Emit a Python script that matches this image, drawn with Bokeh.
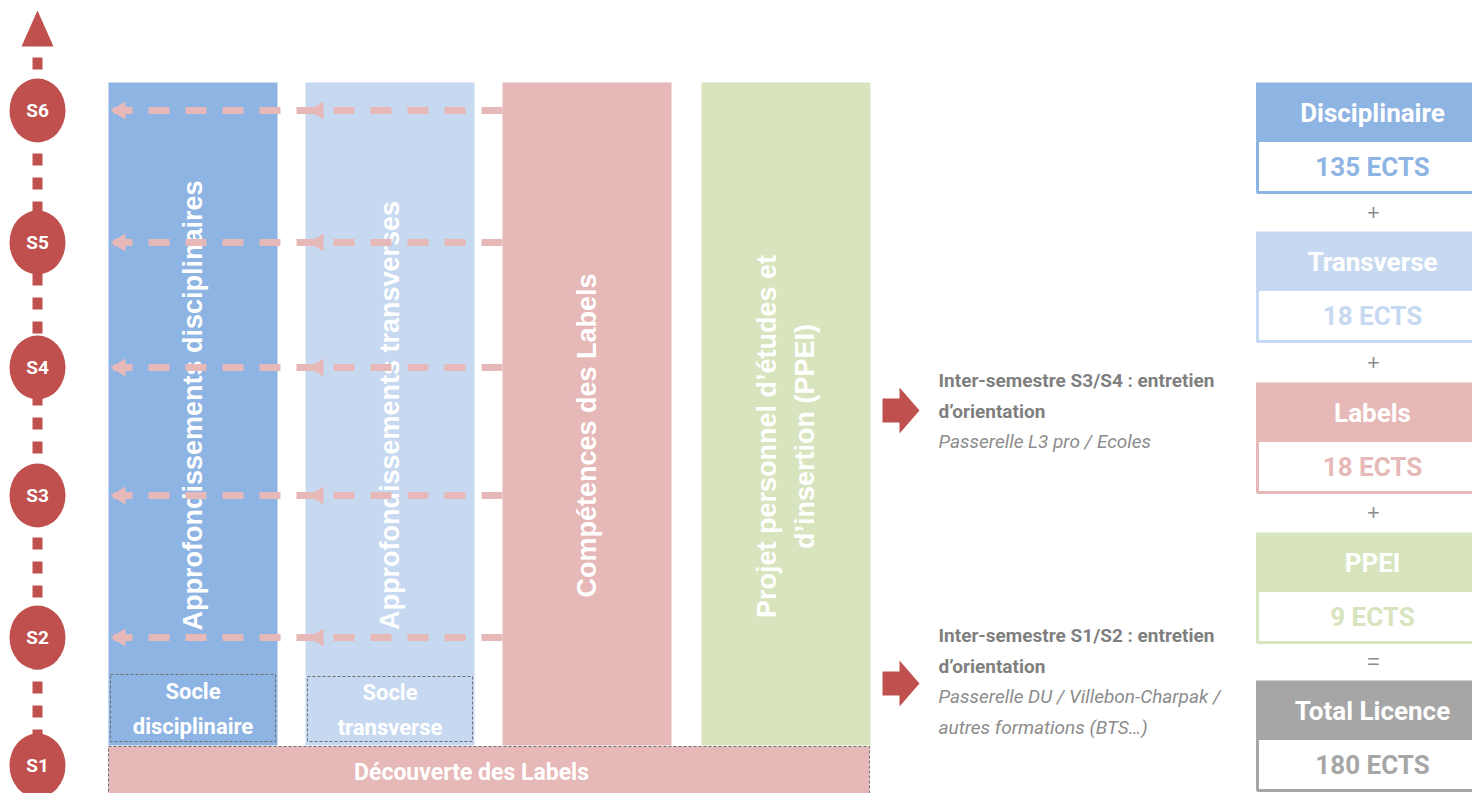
import numpy as np
from bokeh.plotting import figure
from bokeh.models import Range1d
from bokeh.core.properties import value
from bokeh.embed import file_html
from bokeh.resources import INLINE

# ---------------- data ----------------
semesters = ["S1", "S2", "S3", "S4", "S5", "S6"]
column_labels = [
    "Approfondissements disciplinaires",
    "Approfondissements transverses",
    "Compétences des Labels",
    "Projet personnel d’études et\nd’insertion (PPEI)",
]
socle_labels = ["Socle\ndisciplinaire", "Socle\ntransverse"]
base_label = "Découverte des Labels"
modules = ["Disciplinaire", "Transverse", "Labels", "PPEI", "Total Licence"]
ects = [135, 18, 18, 9, 180]
operators = ["+", "+", "+", "="]
note_titles = [
    "Inter-semestre S3/S4 : entretien\nd’orientation",
    "Inter-semestre S1/S2 : entretien\nd’orientation",
]
note_subtitles = [
    "Passerelle L3 pro / Ecoles",
    "Passerelle DU / Villebon-Charpak /\nautres formations (BTS…)",
]

# ---------------- style ----------------
RED = "#C0504D"
BLUE = "#8EB4E3"
LBLUE = "#C6D9F1"
PINK = "#E6B9B8"
GREEN = "#D7E4BD"
GREY = "#A6A6A6"
TXT = "#7F7F7F"
col_colors = [BLUE, LBLUE, PINK, GREEN]
mod_colors = [BLUE, LBLUE, PINK, GREEN, GREY]
NARROW = value("Roboto")
SANS = value("Liberation Sans")

# ---------------- layout ----------------
W, H = 1472, 793
sem_y = [765, 637, 495, 367, 242, 110]
tl_x = 37
col_left = [108, 305, 502, 701]
col_w = 169
col_top, col_bottom = 82, 745
col_text_y = [405, 415, 435, 436]
mod_top = [82, 231, 382, 532, 680]
head_h, body_h = 58, 52
mod_left, mod_right = 1257, 1490
note_y = [380, 635]
note_arrow_y = [410, 683]
note_step = 30.5

p = figure(width=W, height=H, x_range=Range1d(0, W), y_range=Range1d(H, 0),
           output_backend="svg", toolbar_location=None,
           x_axis_location=None, y_axis_location=None, min_border=0)
p.grid.visible = False
p.outline_line_color = None
p.background_fill_color = "white"

# ---- columns ----
p.quad(left=col_left, right=[l + col_w for l in col_left], top=[col_top] * 4,
       bottom=[col_bottom] * 4, fill_color=col_colors, line_color=None)

# socle boxes
soc_l = [col_left[0] + 2, col_left[1] + 2]
p.quad(left=soc_l, right=[l + col_w - 4 for l in soc_l], top=[674, 676], bottom=[741, 741],
       fill_color=None, line_color="#6F6F6F", line_dash="3 2", line_width=1)
p.text(x=[l + col_w / 2 - 2 for l in soc_l], y=[708, 709], text=socle_labels,
       text_font=NARROW, text_font_style="bold", text_font_size="22px", text_color="white",
       text_align="center", text_baseline="middle", text_line_height=1.4)

# base bar
p.quad(left=[col_left[0]], right=[col_left[3] + col_w - 1], top=[746], bottom=[800],
       fill_color=PINK, line_color="#6F6F6F", line_dash="3 2", line_width=1)
p.text(x=[(col_left[0] + col_left[3] + col_w) / 2 - 18], y=[772], text=[base_label],
       text_font=NARROW, text_font_style="bold", text_font_size="23px", text_color="white",
       text_align="center", text_baseline="middle")

# vertical labels
p.text(x=[l + col_w / 2 for l in col_left], y=col_text_y, text=column_labels, angle=np.pi / 2,
       text_font=SANS, text_font_style="bold", text_font_size="27px", text_color="white",
       text_align="center", text_baseline="middle", text_line_height=1.26)

# dashed arrows
rows = sem_y[1:]
for y in rows:
    p.line(x=[col_left[2], col_left[0] + 5], y=[y, y], line_color=PINK, line_width=7,
           line_dash="21 16")
heads = []
for y in rows:
    for tip in (col_left[0] + 2, col_left[1] + 3):
        heads.append(([tip, tip + 15, tip + 15], [y, y - 9, y + 9]))
p.patches(xs=[h[0] for h in heads], ys=[h[1] for h in heads], fill_color=PINK, line_color=None)

# ---- timeline ----
p.line(x=[tl_x, tl_x], y=[sem_y[0], 50], line_color=RED, line_width=10, line_dash="12 12")
p.patch(x=[tl_x - 16, tl_x + 16, tl_x], y=[46, 46, 10], fill_color=RED, line_color=None)
p.ellipse(x=[tl_x] * 6, y=sem_y, width=56, height=64, fill_color=RED, line_color=None)
p.text(x=[tl_x] * 6, y=sem_y, text=semesters, text_font=NARROW, text_font_style="bold",
       text_font_size="19px", text_color="white", text_align="center", text_baseline="middle")

# ---- notes ----
for ay in note_arrow_y:
    x0 = 882
    p.patch(x=[x0, x0 + 17, x0 + 17, x0 + 37, x0 + 17, x0 + 17, x0],
            y=[ay - 12, ay - 12, ay - 23, ay, ay + 23, ay + 12, ay + 12],
            fill_color=RED, line_color=None)
tx, ty, sx, sy = [], [], [], []
for ny, title, sub in zip(note_y, note_titles, note_subtitles):
    tl = title.split("\n")
    for i, line in enumerate(tl):
        tx.append(line)
        ty.append(ny + i * note_step)
    for j, line in enumerate(sub.split("\n")):
        sx.append(line)
        sy.append(ny + (len(tl) + j) * note_step)
p.text(x=[938] * len(tx), y=ty, text=tx, text_font=NARROW, text_font_style="bold",
       text_font_size="19px", text_color=TXT, text_align="left", text_baseline="middle")
p.text(x=[938] * len(sx), y=sy, text=sx, text_font=NARROW, text_font_style="italic",
       text_font_size="19px", text_color="#8C8C8C", text_align="left", text_baseline="middle")

# ---- modules ----
p.quad(left=[mod_left] * 5, right=[mod_right] * 5, top=[t + head_h for t in mod_top],
       bottom=[t + head_h + body_h for t in mod_top], fill_color="white",
       line_color=mod_colors, line_width=3)
p.quad(left=[mod_left - 1.5] * 5, right=[mod_right] * 5, top=mod_top,
       bottom=[t + head_h for t in mod_top], fill_color=mod_colors, line_color=None)
cx = 1372
p.text(x=[cx] * 5, y=[t + head_h / 2 + 1 for t in mod_top], text=modules, text_font=NARROW,
       text_font_style="bold", text_font_size="26px", text_color="white",
       text_align="center", text_baseline="middle")
p.text(x=[cx] * 5, y=[t + head_h + body_h / 2 for t in mod_top],
       text=[f"{v} ECTS" for v in ects], text_font=NARROW, text_font_style="bold",
       text_font_size="26px", text_color=mod_colors, text_align="center",
       text_baseline="middle")
p.text(x=[cx + 1] * 4, y=[(mod_top[i] + head_h + body_h + mod_top[i + 1]) / 2 for i in range(4)],
       text=operators, text_font=SANS, text_font_size="22px", text_color="#8C8C8C",
       text_align="center", text_baseline="middle")

open("out.html", "w").write(file_html(p, INLINE))
